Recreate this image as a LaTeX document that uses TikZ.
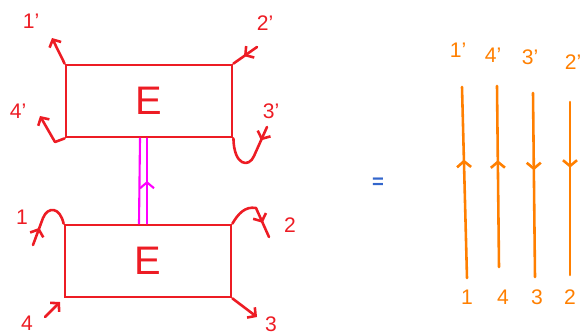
\documentclass[tikz,border=0pt]{standalone}
\usepackage{fontspec}
\setmainfont{Liberation Sans}
\usetikzlibrary{arrows.meta,decorations.markings}
\definecolor{penred}{RGB}{237,28,36}
\definecolor{penmag}{RGB}{255,0,255}
\definecolor{penorange}{RGB}{255,127,0}
\definecolor{penblue}{RGB}{51,102,204}
\tikzstyle{blk}=[rectangle,draw=penred,line width=2.4pt,minimum width=4.98cm,minimum height=2.16cm,text=penred,font=\fontsize{34}{36}\selectfont]
\tikzstyle{leg}=[draw=penred,line width=2.2pt,line cap=round,line join=round,>={Straight Barb[length=5pt,width=11pt]}]
\tikzstyle{lbl}=[text=penred,font=\fontsize{18}{20}\selectfont]
\tikzstyle{mag}=[draw=penmag,line width=1.8pt,line cap=round]
\tikzstyle{wire}=[draw=penorange,line width=2.2pt,line cap=round]
\tikzstyle{olbl}=[text=penorange,font=\fontsize{18}{20}\selectfont]
\tikzset{midarr/.style={postaction={decorate},decoration={markings,
  mark=at position #1 with {\arrow{Straight Barb[length=5pt,width=12pt]}}}}}

\begin{document}
\begin{tikzpicture}[x=0.03cm,y=-0.03cm]
\useasboundingbox (0,0) rectangle (587,334);
% the two blocks
\node[blk] (top) at (149,101) {E};
\node[blk] (bot) at (148,261) {E};
% legs of the upper block
\node[lbl] (l1p) at (31,21) {1'};
\node[lbl] (l2p) at (265,23) {2'};
\node[lbl] (l3p) at (271,111) {3'};
\node[lbl] (l4p) at (18,111) {4'};
\coordinate (t1) at (52,38);
\coordinate (t2) at (257,47);
\coordinate (t3) at (267,127);
\coordinate (t4) at (40,116);
\draw[leg,->] (top.north west) -- (t1);
\draw[leg,midarr=0.55] (t2) -- (top.north east);
\draw[leg,->] (top.south west) -- (55,142) -- (t4);
\draw[leg,midarr=0.2] (t3) -- (254,156) .. controls (249,168) and (234,166) .. (top.south east);
% legs of the lower block
\node[lbl] (l1) at (22,217) {1};
\node[lbl] (l2) at (290,225) {2};
\node[lbl] (l3) at (271,324) {3};
\node[lbl] (l4) at (27,323) {4};
\coordinate (b1) at (33,245);
\coordinate (b2) at (269,237);
\coordinate (b3) at (257,317);
\coordinate (b4) at (45,317);
\coordinate (b4e) at (60,302);
\draw[leg,midarr=0.3] (b1) -- (43,218) .. controls (48,206) and (60,207) .. (bot.north west);
\draw[leg,midarr=0.75] (bot.north east) .. controls (238,214) and (245,206) .. (256,208) -- (b2);
\draw[leg,->] (bot.south east) -- (b3);
\draw[leg,->] (b4) -- (b4e);
% link between the blocks
\draw[mag] ([xshift=-0.27cm]bot.north) -- ([xshift=-0.27cm]top.south);
\draw[mag,midarr=0.5] ([xshift=-0.03cm]bot.north) -- ([xshift=-0.06cm]top.south);
% equals sign
\node[text=penblue,font=\LARGE\bfseries] (eq) at (378,183) {=};
% the four wires
\node[olbl] (o1p) at (458,50) {1'};
\node[olbl] (o4p) at (493,55) {4'};
\node[olbl] (o3p) at (530,57) {3'};
\node[olbl] (o2p) at (573,62) {2'};
\node[olbl] (o1) at (467,297) {1};
\node[olbl] (o4) at (503,297) {4};
\node[olbl] (o3) at (537,297) {3};
\node[olbl] (o2) at (570,297) {2};
\coordinate (w1b) at (467,278);
\coordinate (w1t) at (462,87);
\coordinate (w4b) at (499,267);
\coordinate (w4t) at (497,86);
\coordinate (w3b) at (535,277);
\coordinate (w3t) at (533,93);
\coordinate (w2b) at (570,275);
\coordinate (w2t) at (570,102);
\draw[wire,midarr=0.62] (w1b) -- (w1t);
\draw[wire,midarr=0.59] (w4b) -- (w4t);
\draw[wire,midarr=0.42] (w3t) -- (w3b);
\draw[wire,midarr=0.38] (w2t) -- (w2b);
\end{tikzpicture}
\end{document}
